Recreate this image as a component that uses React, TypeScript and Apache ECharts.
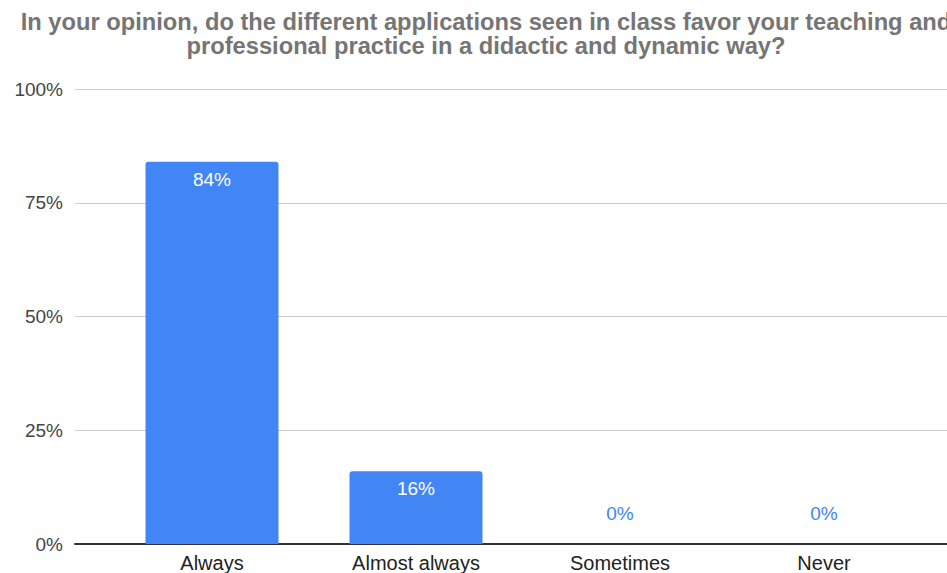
import React, { useEffect, useRef } from "react";
import * as echarts from "echarts";

const categories = ["Always", "Almost always", "Sometimes", "Never"];
const values = [84, 16, 0, 0];
const yTicks = [0, 25, 50, 75, 100];
const titleLines = [
  "In your opinion, do the different applications seen in class favor your teaching and",
  "professional practice in a didactic and dynamic way?",
];

const BLUE = "#4285F4";
const FONT = "'Liberation Sans', Arial, sans-serif";

export default function App() {
  const ref = useRef<HTMLDivElement>(null);
  useEffect(() => {
    if (!ref.current) return;
    const chart = echarts.init(ref.current, undefined, { renderer: "svg" });
    const top = 89;
    const bottom = 573 - 544;
    chart.setOption({
      animation: false,
      backgroundColor: "#ffffff",
      graphic: [
        {
          type: "text",
          x: 486,
          y: 10,
          style: {
            text: titleLines.join("\n"),
            textAlign: "center",
            fontFamily: FONT,
            fontWeight: "bold",
            fontSize: 23.7,
            lineHeight: 24,
            fill: "#757575",
          },
        },
      ],
      grid: [
        { left: 75, right: 0, top, bottom },
        { left: 110, right: 21, top, bottom },
      ],
      xAxis: [
        {
          type: "value",
          gridIndex: 0,
          min: 0,
          max: 1,
          axisLabel: { show: false },
          splitLine: { show: false },
          axisTick: { show: false },
          axisLine: { show: true, onZero: false, lineStyle: { color: "#333333", width: 2 } },
        },
        {
          type: "category",
          gridIndex: 1,
          data: categories,
          axisLine: { show: false },
          axisTick: { show: false },
          axisLabel: {
            fontFamily: FONT,
            fontSize: 20,
            color: "#222222",
            margin: 9,
          },
        },
      ],
      yAxis: [
        {
          type: "value",
          gridIndex: 0,
          min: 0,
          max: 100,
          interval: 25,
          axisLine: { show: false },
          axisTick: { show: false },
          axisLabel: {
            fontFamily: FONT,
            fontSize: 19,
            color: "#444444",
            margin: 12,
            formatter: (v: number) => (yTicks.includes(v) ? v + "%" : ""),
          },
          splitLine: { lineStyle: { color: "#cccccc", width: 1 } },
        },
        {
          type: "value",
          gridIndex: 1,
          min: 0,
          max: 100,
          interval: 25,
          show: false,
          splitLine: { show: false },
        },
      ],
      series: [
        {
          type: "bar",
          xAxisIndex: 1,
          yAxisIndex: 1,
          barWidth: 133,
          itemStyle: { color: BLUE, borderRadius: [3, 3, 0, 0] },
          data: values.map((v) => ({
            value: v,
            label:
              v === 0
                ? {
                    show: true,
                    position: "top",
                    distance: 21,
                    color: BLUE,
                    fontFamily: FONT,
                    fontSize: 19,
                    formatter: "{c}%",
                  }
                : {
                    show: true,
                    position: "insideTop",
                    distance: 8,
                    color: "#ffffff",
                    fontFamily: FONT,
                    fontSize: 19,
                    formatter: "{c}%",
                  },
          })),
        },
      ],
    });
    return () => chart.dispose();
  }, []);
  return (
    <div
      ref={ref}
      style={{ position: "fixed", left: 0, top: 0, width: 947, height: 573 }}
    />
  );
}
